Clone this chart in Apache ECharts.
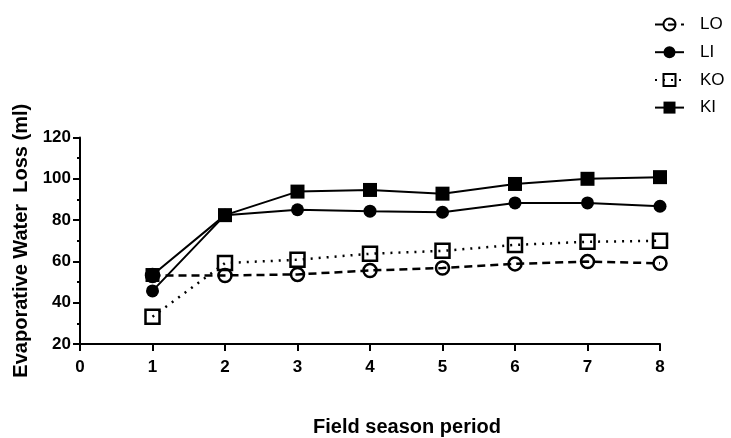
<!DOCTYPE html>
<html>
<head>
<meta charset="utf-8">
<script src="https://cdn.jsdelivr.net/npm/echarts@6/dist/echarts.min.js"></script>
<style>
html,body{margin:0;padding:0;background:#fff;}
#chart{width:731px;height:438px;}
</style>
</head>
<body>
<div id="chart"></div>
<script>
const periods = [1, 2, 3, 4, 5, 6, 7, 8];
const LO = [53.2, 53.2, 53.7, 55.6, 56.8, 58.8, 59.9, 59.1];
const LI = [45.7, 82.4, 85.0, 84.3, 83.8, 88.3, 88.3, 86.7];
const KO = [33.2, 59.2, 60.8, 63.7, 65.1, 68.0, 69.5, 70.0];
const KI = [53.4, 82.4, 93.8, 94.6, 92.8, 97.5, 100.0, 100.8];
const xTicks = [0, 1, 2, 3, 4, 5, 6, 7, 8];
const yTicks = [20, 40, 60, 80, 100, 120];

const pairs = vals => periods.map((p, i) => [p, vals[i]]);
const font = "'Liberation Sans', Arial, sans-serif";
const clear = 'rgba(255,255,255,0)';

const chart = echarts.init(document.getElementById('chart'), null, {renderer: 'canvas'});
chart.setOption({
  animation: false,
  backgroundColor: '#fff',
  grid: {left: 80, right: 71, top: 137.5, bottom: 92, containLabel: false},
  legend: {
    orient: 'vertical',
    left: 649,
    top: 11,
    itemGap: 10.7,
    itemWidth: 29,
    itemHeight: 15,
    textStyle: {fontFamily: font, fontSize: 17, color: '#000', padding: [0, 0, 0, 11]},
    data: ['LO', 'LI', 'KO', 'KI']
  },
  xAxis: {
    type: 'value',
    min: xTicks[0],
    max: xTicks[xTicks.length - 1],
    interval: 1,
    name: 'Field season period',
    nameLocation: 'middle',
    nameGap: 73,
    nameTextStyle: {fontFamily: font, fontSize: 20, fontWeight: 'bold', color: '#000', padding: [0, 0, 0, 74]},
    axisLine: {lineStyle: {color: '#000', width: 2}},
    axisTick: {length: 7, lineStyle: {color: '#000', width: 2}},
    axisLabel: {fontFamily: font, fontSize: 17, fontWeight: 'bold', color: '#000', margin: 15},
    splitLine: {show: false}
  },
  yAxis: {
    type: 'value',
    min: yTicks[0],
    max: yTicks[yTicks.length - 1],
    interval: 20,
    name: 'Evaporative Water  Loss (ml)',
    nameLocation: 'middle',
    nameGap: 40,
    nameTextStyle: {fontFamily: font, fontSize: 20, fontWeight: 'bold', color: '#000'},
    axisLine: {show: true, lineStyle: {color: '#000', width: 2}},
    axisTick: {show: true, length: 7, lineStyle: {color: '#000', width: 2}},
    minorTick: {show: true, splitNumber: 2, length: 3, lineStyle: {color: '#000', width: 2}},
    axisLabel: {fontFamily: font, fontSize: 17, fontWeight: 'bold', color: '#000', margin: 9},
    splitLine: {show: false}
  },
  series: [
    {
      name: 'LO', type: 'line', data: pairs(LO), z: 2,
      symbol: 'circle', symbolSize: 13,
      lineStyle: {color: '#000', width: 2.5, type: [8, 5]},
      itemStyle: {color: clear, borderColor: '#000', borderWidth: 2.5}
    },
    {
      name: 'LI', type: 'line', data: pairs(LI), z: 4,
      symbol: 'circle', symbolSize: 13,
      lineStyle: {color: '#000', width: 2},
      itemStyle: {color: '#000', borderColor: '#000', borderWidth: 0}
    },
    {
      name: 'KO', type: 'line', data: pairs(KO), z: 3,
      symbol: 'rect', symbolSize: 14,
      lineStyle: {color: '#000', width: 2.5, type: [2, 6]},
      itemStyle: {color: clear, borderColor: '#000', borderWidth: 2.5}
    },
    {
      name: 'KI', type: 'line', data: pairs(KI), z: 5,
      symbol: 'rect', symbolSize: 14,
      lineStyle: {color: '#000', width: 2},
      itemStyle: {color: '#000', borderColor: '#000', borderWidth: 0}
    }
  ]
});
</script>
</body>
</html>
